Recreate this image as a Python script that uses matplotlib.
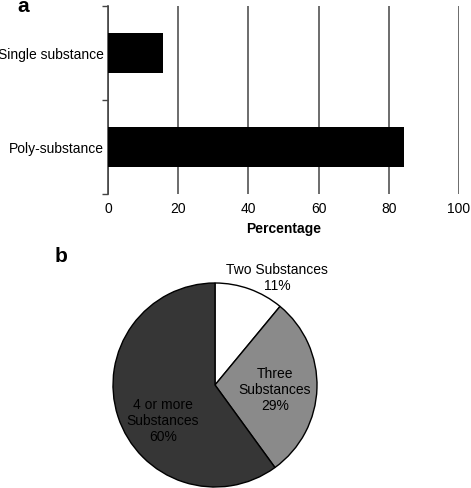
import matplotlib
matplotlib.use("Agg")
import matplotlib.pyplot as plt

plt.rcParams['font.family'] = ['Liberation Sans', 'DejaVu Sans']

# Panel a data
bar_categories = ["Single substance", "Poly-substance"]
bar_values = [15.7, 84.3]
x_ticks = [0, 20, 40, 60, 80, 100]

# Panel b data
pie_labels = ["Two Substances\n11%", "Three\nSubstances\n29%", "4 or more\nSubstances\n60%"]
pie_values = [11, 29, 60]
pie_colors = ["#ffffff", "#8a8a8a", "#363636"]

W, H = 471, 489
fig = plt.figure(figsize=(W / 100, H / 100), dpi=100)

# ---- Panel a ----
ax = fig.add_axes([108 / W, (H - 195) / H, 351 / W, 188 / H])
ypos = list(range(len(bar_categories)))
ax.barh(ypos, bar_values, height=0.42, color="black", zorder=3)
ax.set_xlim(0, 100)
ax.set_ylim(len(bar_categories) - 0.5, -0.5)
ax.set_xticks(x_ticks)
ax.set_xticklabels([str(t) for t in x_ticks], fontsize=10)
ax.set_yticks(ypos)
ax.set_yticklabels(bar_categories, fontsize=10)
ax.tick_params(axis="y", length=0, pad=3)
ax.tick_params(axis="x", length=0, pad=5)
# boundary ticks on left axis
ax.set_yticks([-0.5, 0.5, 1.5], minor=True)
ax.tick_params(axis="y", which="minor", length=4, color="#444444", width=1)
for s in ["top", "right", "bottom"]:
    ax.spines[s].set_visible(False)
ax.spines["left"].set_color("#444444")
ax.spines["left"].set_linewidth(1.2)
ax.xaxis.grid(True, color="#444444", linewidth=1.1)
ax.set_axisbelow(True)
ax.set_xlabel("Percentage", fontsize=10, fontweight="bold", labelpad=4)
fig.text(23 / W, 1 - 6 / H, "a", fontsize=15, fontweight="bold", ha="center", va="center")

# ---- Panel b ----
R = 102
cx, cy = 215, 386
pax = fig.add_axes([(cx - R) / W, (H - cy - R) / H, 2 * R / W, 2 * R / H])
pax.pie(pie_values, colors=pie_colors, startangle=90, counterclock=False,
        radius=1, wedgeprops=dict(edgecolor="black", linewidth=1.0))
pax.set_xlim(-1, 1)
pax.set_ylim(-1, 1)
pax.set_aspect("equal")
pax.axis("off")
label_px = [(277, 278), (275, 390), (163, 421)]
for lab, (px, py) in zip(pie_labels, label_px):
    pax.text((px - cx) / R, (cy - py) / R, lab, ha="center", va="center",
             fontsize=10, linespacing=1.15, clip_on=False,
             color="black")
fig.text(61 / W, 1 - 256 / H, "b", fontsize=15, fontweight="bold", ha="center", va="center")

fig.savefig("out.png", dpi=100)
